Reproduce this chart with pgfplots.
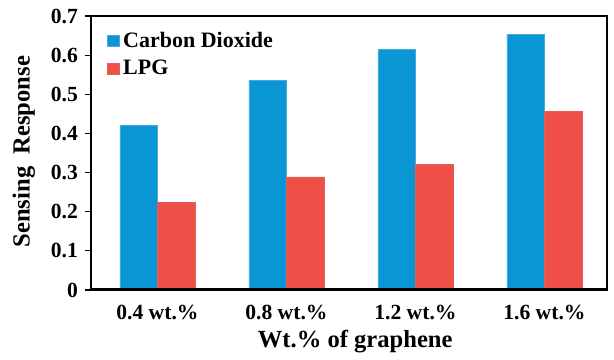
\documentclass[border=0pt]{standalone}
\usepackage{fontspec}
\setmainfont{Liberation Serif}
\usepackage{pgfplots}
\pgfplotsset{compat=1.18}
\definecolor{co2}{RGB}{10,150,213}
\definecolor{co2e}{RGB}{70,170,220}
\definecolor{lpg}{RGB}{238,80,72}
\definecolor{lpge}{RGB}{225,95,90}
\begin{document}
\begin{tikzpicture}
\begin{axis}[
  scale only axis,
  width=258pt, height=137pt,
  xmin=-0.515, xmax=3.485,
  ymin=0, ymax=0.7,
  ybar=0pt, bar width=18.75pt,
  xtick={0,1,2,3},
  xticklabels={0.4 wt.\%,0.8 wt.\%,1.2 wt.\%,1.6 wt.\%},
  major x tick style={draw=none},
  extra x ticks={-0.515,0.5,1.5,2.5,3.485},
  extra x tick labels={},
  extra x tick style={major tick length=4pt, tick align=outside, tick style={line width=0.6pt, black}},
  ytick={0,0.1,...,0.7},
  yticklabel style={/pgf/number format/fixed, /pgf/number format/precision=1},
  /pgf/number format/assume math mode=true,
  xtick pos=bottom, ytick pos=left,
  tick align=outside,
  major tick length=3pt,
  tick style={line width=0.6pt, black},
  axis line style={line width=1pt},
  ticklabel style={font=\fontsize{10.8}{12}\selectfont\bfseries},
  xticklabel style={yshift=-1pt},
  xlabel={Wt.\% of graphene},
  ylabel={Sensing\ \ Response},
  label style={font=\fontsize{12.3}{14}\selectfont\bfseries},
  xlabel style={at={(axis description cs:0.512,-0.188)}, anchor=center},
  ylabel style={at={(axis description cs:-0.13,0.505)}, anchor=center},
  legend style={at={(axis description cs:0.031,0.958)}, anchor=north west,
    draw=none, fill=none, inner sep=0pt, row sep=1pt,
    font=\fontsize{11}{12}\selectfont\bfseries},
  legend cell align=left,
  legend image code/.code={\fill[#1] (0pt,-2.8pt) rectangle (5.6pt,2.8pt);},
]
\addplot[fill=co2, draw=co2e, line width=0.3pt] coordinates {(0,0.420) (1,0.536) (2,0.614) (3,0.654)};
\addplot[fill=lpg, draw=lpge, line width=0.3pt] coordinates {(0,0.224) (1,0.289) (2,0.320) (3,0.457)};
\legend{Carbon Dioxide, LPG}
\draw[line width=1.6pt] (rel axis cs:0,0) -- (rel axis cs:1,0);
\end{axis}
\useasboundingbox (-45.5pt,-34pt) rectangle (261.5pt,145pt);
\end{tikzpicture}
\end{document}
